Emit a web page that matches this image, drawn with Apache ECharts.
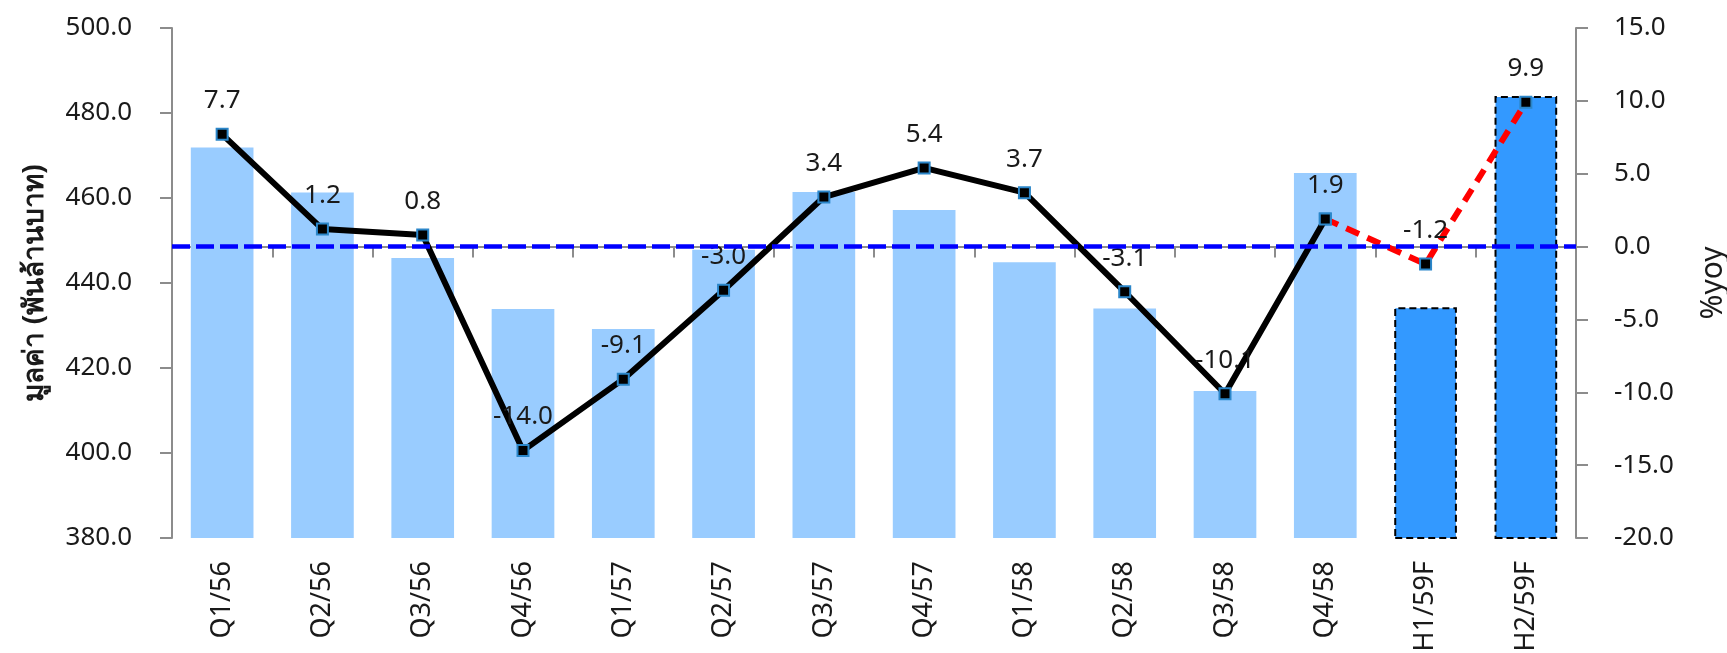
<!DOCTYPE html>
<html>
<head>
<meta charset="utf-8">
<script src="https://cdn.jsdelivr.net/npm/echarts@6/dist/echarts.min.js"></script>
<style>
  html, body { margin: 0; padding: 0; background: #fff; }
  #chart { width: 1727px; height: 653px; }
</style>
</head>
<body>
<div id="chart"></div>
<script>
// Quarterly / half-year periods
const categories = ['Q1/56', 'Q2/56', 'Q3/56', 'Q4/56', 'Q1/57', 'Q2/57', 'Q3/57',
                    'Q4/57', 'Q1/58', 'Q2/58', 'Q3/58', 'Q4/58', 'H1/59F', 'H2/59F'];
// Value (billion baht), left axis
const values = [471.9, 461.3, 445.9, 433.9, 429.2, 447.8, 461.4,
                457.2, 444.9, 434.0, 414.6, 465.9, 434.3, 484.0];
// Growth %yoy, right axis
const yoy = [7.7, 1.2, 0.8, -14.0, -9.1, -3.0, 3.4, 5.4, 3.7, -3.1, -10.1, 1.9, -1.2, 9.9];
// Number of actual (non-forecast) periods
const actualCount = 12;

const FONT = "'Noto Sans', 'Open Sans', Tahoma, 'DejaVu Sans', sans-serif";
const AXIS_GRAY = '#8c8c8c';
const TEXT = '#1a1a1a';

const barData = values.map((v, i) => {
  if (i < actualCount) {
    return { value: v, itemStyle: { color: '#99ccff' } };
  }
  return {
    value: v,
    itemStyle: { color: '#3399ff', borderColor: '#000', borderWidth: 2, borderType: [7, 4] }
  };
});

const actualLine = yoy.map((v, i) => (i < actualCount ? v : '-'));
const forecastLine = yoy.map((v, i) => (i >= actualCount - 1 ? v : '-'));

const labelStyle = {
  show: true,
  position: 'top',
  distance: 14,
  color: TEXT,
  fontSize: 26,
  fontFamily: FONT,
  formatter: p => Number(p.value).toFixed(1)
};

const markerStyle = { color: '#000', borderColor: '#2b86c9', borderWidth: 2 };

const chart = echarts.init(document.getElementById('chart'), null, { renderer: 'canvas' });

chart.setOption({
  animation: false,
  backgroundColor: '#fff',
  textStyle: { fontFamily: FONT },
  grid: {
    left: 172, right: 151, top: 28, bottom: 115,
    containLabel: false,
    outerBoundsMode: 'none'
  },
  xAxis: {
    type: 'category',
    data: categories,
    boundaryGap: true,
    axisLine: { lineStyle: { color: AXIS_GRAY, width: 2 } },
    axisTick: { show: true, length: 11, alignWithLabel: false, lineStyle: { color: AXIS_GRAY, width: 2 } },
    axisLabel: { rotate: 90, margin: 23, color: TEXT, fontSize: 27, fontFamily: FONT, interval: 0 }
  },
  yAxis: [
    {
      type: 'value',
      min: 380, max: 500, interval: 20,
      name: 'มูลค่า (พันล้านบาท)',
      nameLocation: 'middle',
      nameGap: 123,
      nameRotate: 90,
      nameTextStyle: { fontSize: 28, fontWeight: 'bold', color: TEXT, fontFamily: FONT },
      axisLine: { show: true, lineStyle: { color: AXIS_GRAY, width: 2 } },
      axisTick: { show: true, length: 12, lineStyle: { color: AXIS_GRAY, width: 2 } },
      splitLine: { show: false },
      axisLabel: { margin: 40, color: TEXT, fontSize: 26, fontFamily: FONT, formatter: v => v.toFixed(1) }
    },
    {
      type: 'value',
      min: -20, max: 15, interval: 5,
      name: '%yoy',
      nameLocation: 'middle',
      nameGap: 122,
      nameRotate: 90,
      nameTextStyle: { fontSize: 30, color: TEXT, fontFamily: FONT },
      axisLine: { show: true, lineStyle: { color: AXIS_GRAY, width: 2 } },
      axisTick: { show: true, length: 12, lineStyle: { color: AXIS_GRAY, width: 2 } },
      splitLine: { show: false },
      axisLabel: { margin: 38, color: TEXT, fontSize: 26, fontFamily: FONT, formatter: v => v.toFixed(1) }
    }
  ],
  series: [
    {
      name: 'มูลค่า',
      type: 'bar',
      yAxisIndex: 0,
      barWidth: '62.5%',
      data: barData,
      z: 1
    },
    {
      name: 'zero',
      type: 'line',
      yAxisIndex: 1,
      data: [],
      silent: true,
      markLine: {
        silent: true,
        symbol: ['none', 'none'],
        label: { show: false },
        lineStyle: { color: '#0000ff', width: 4.5, type: [18, 6] },
        data: [{ yAxis: 0 }]
      },
      z: 2
    },
    {
      name: '%yoy',
      type: 'line',
      yAxisIndex: 1,
      data: actualLine,
      symbol: 'rect',
      symbolSize: 11,
      lineStyle: { color: '#000', width: 6 },
      itemStyle: markerStyle,
      label: labelStyle,
      z: 4
    },
    {
      name: '%yoy F',
      type: 'line',
      yAxisIndex: 1,
      data: forecastLine,
      symbol: 'rect',
      symbolSize: 11,
      showAllSymbol: true,
      lineStyle: { color: '#ff0000', width: 6, type: [14, 9] },
      itemStyle: markerStyle,
      label: Object.assign({}, labelStyle, {
        formatter: p => (p.dataIndex >= actualCount ? Number(p.value).toFixed(1) : '')
      }),
      z: 3
    }
  ]
});
</script>
</body>
</html>
